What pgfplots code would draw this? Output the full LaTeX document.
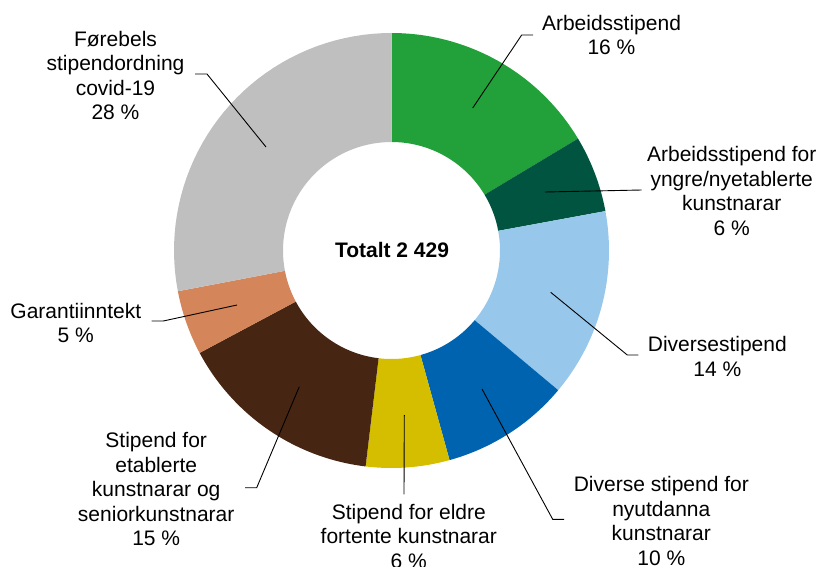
\documentclass[border=0pt]{standalone}
\usepackage{pgfplots}
\pgfplotsset{compat=1.18}
\usepackage{fontspec}
\setmainfont{Liberation Sans}
\definecolor{cgreen}{RGB}{34,161,58}
\definecolor{cdgreen}{RGB}{0,84,64}
\definecolor{clblue}{RGB}{151,199,235}
\definecolor{cblue}{RGB}{0,99,175}
\definecolor{cyellow}{RGB}{213,190,0}
\definecolor{cbrown}{RGB}{71,37,19}
\definecolor{corange}{RGB}{212,133,90}
\definecolor{cgray}{RGB}{191,191,191}
\def\cx{391.5}\def\cy{250.5}\def\Ro{217.5}\def\Ri{108.5}
% segment: start share (%), end share (%), colour
\newcommand{\donutseg}[3]{%
 \addplot[fill=#3, draw=none, samples at={0,...,40,100,101,...,140}, variable=\t]
 ({ifthenelse(\t<50, \cx+\Ro*sin(3.6*(#1+(#2-#1)*\t/40)), \cx+\Ri*sin(3.6*(#2-(#2-#1)*(\t-100)/40)))},
  {ifthenelse(\t<50, \cy-\Ro*cos(3.6*(#1+(#2-#1)*\t/40)), \cy-\Ri*cos(3.6*(#2-(#2-#1)*(\t-100)/40)))});
}
\begin{document}
\begin{tikzpicture}
\begin{axis}[width=823pt, height=567pt, scale only axis, hide axis,
  xmin=0, xmax=823, ymin=0, ymax=567, y dir=reverse, clip=false]
% shares: 16.4, 5.7, 14.0, 9.6, 6.2, 15.3, 4.8, 28.0 (cumulative bounds)
\donutseg{0}{16.4}{cgreen}
\donutseg{16.4}{22.1}{cdgreen}
\donutseg{22.1}{36.1}{clblue}
\donutseg{36.1}{45.7}{cblue}
\donutseg{45.7}{51.9}{cyellow}
\donutseg{51.9}{67.2}{cbrown}
\donutseg{67.2}{72.0}{corange}
\donutseg{72.0}{100}{cgray}
% leader lines
\addplot[black, line width=0.9pt] coordinates {(472.7,108) (521.7,35) (533,35)};
\addplot[black, line width=0.9pt] coordinates {(545,192) (641.7,190)};
\addplot[black, line width=0.9pt] coordinates {(550.7,292.3) (627.3,355) (638.3,355)};
\addplot[black, line width=0.9pt] coordinates {(482,389) (552.7,519.3) (564,519.3)};
\addplot[black, line width=0.9pt] coordinates {(404.3,415) (404,494.3)};
\addplot[black, line width=0.9pt] coordinates {(299.3,386.7) (256.7,487.7) (245,487.7)};
\addplot[black, line width=0.9pt] coordinates {(237,305) (163.3,321) (151.7,321)};
\addplot[black, line width=0.9pt] coordinates {(266,147) (207,74) (195,74)};
% labels
\begin{scope}[every node/.style={align=center, font=\fontsize{21}{24.5}\selectfont, inner sep=0pt}]
\node at (axis cs:611.5,35) {Arbeidsstipend\\16 \%};
\node at (axis cs:731.7,191) {Arbeidsstipend for\\yngre/nyetablerte\\kunstnarar\\6 \%};
\node at (axis cs:717.3,356.5) {Diversestipend\\14 \%};
\node at (axis cs:661.3,521) {Diverse stipend for\\nyutdanna\\kunstnarar\\10 \%};
\node at (axis cs:408.8,536) {Stipend for eldre\\fortente kunstnarar\\6 \%};
\node at (axis cs:156.2,489) {Stipend for\\etablerte\\kunstnarar og\\seniorkunstnarar\\15 \%};
\node at (axis cs:75.8,323) {Garantiinntekt\\5 \%};
\node at (axis cs:115.5,75.5) {Førebels\\stipendordning\\covid-19\\28 \%};
\node[font=\fontsize{21}{24.5}\selectfont\bfseries] at (axis cs:392,250) {Totalt 2 429};
\end{scope}
\end{axis}
\pgfresetboundingbox
\path[use as bounding box] (current axis.south west) rectangle (current axis.north east);
\end{tikzpicture}
\end{document}
